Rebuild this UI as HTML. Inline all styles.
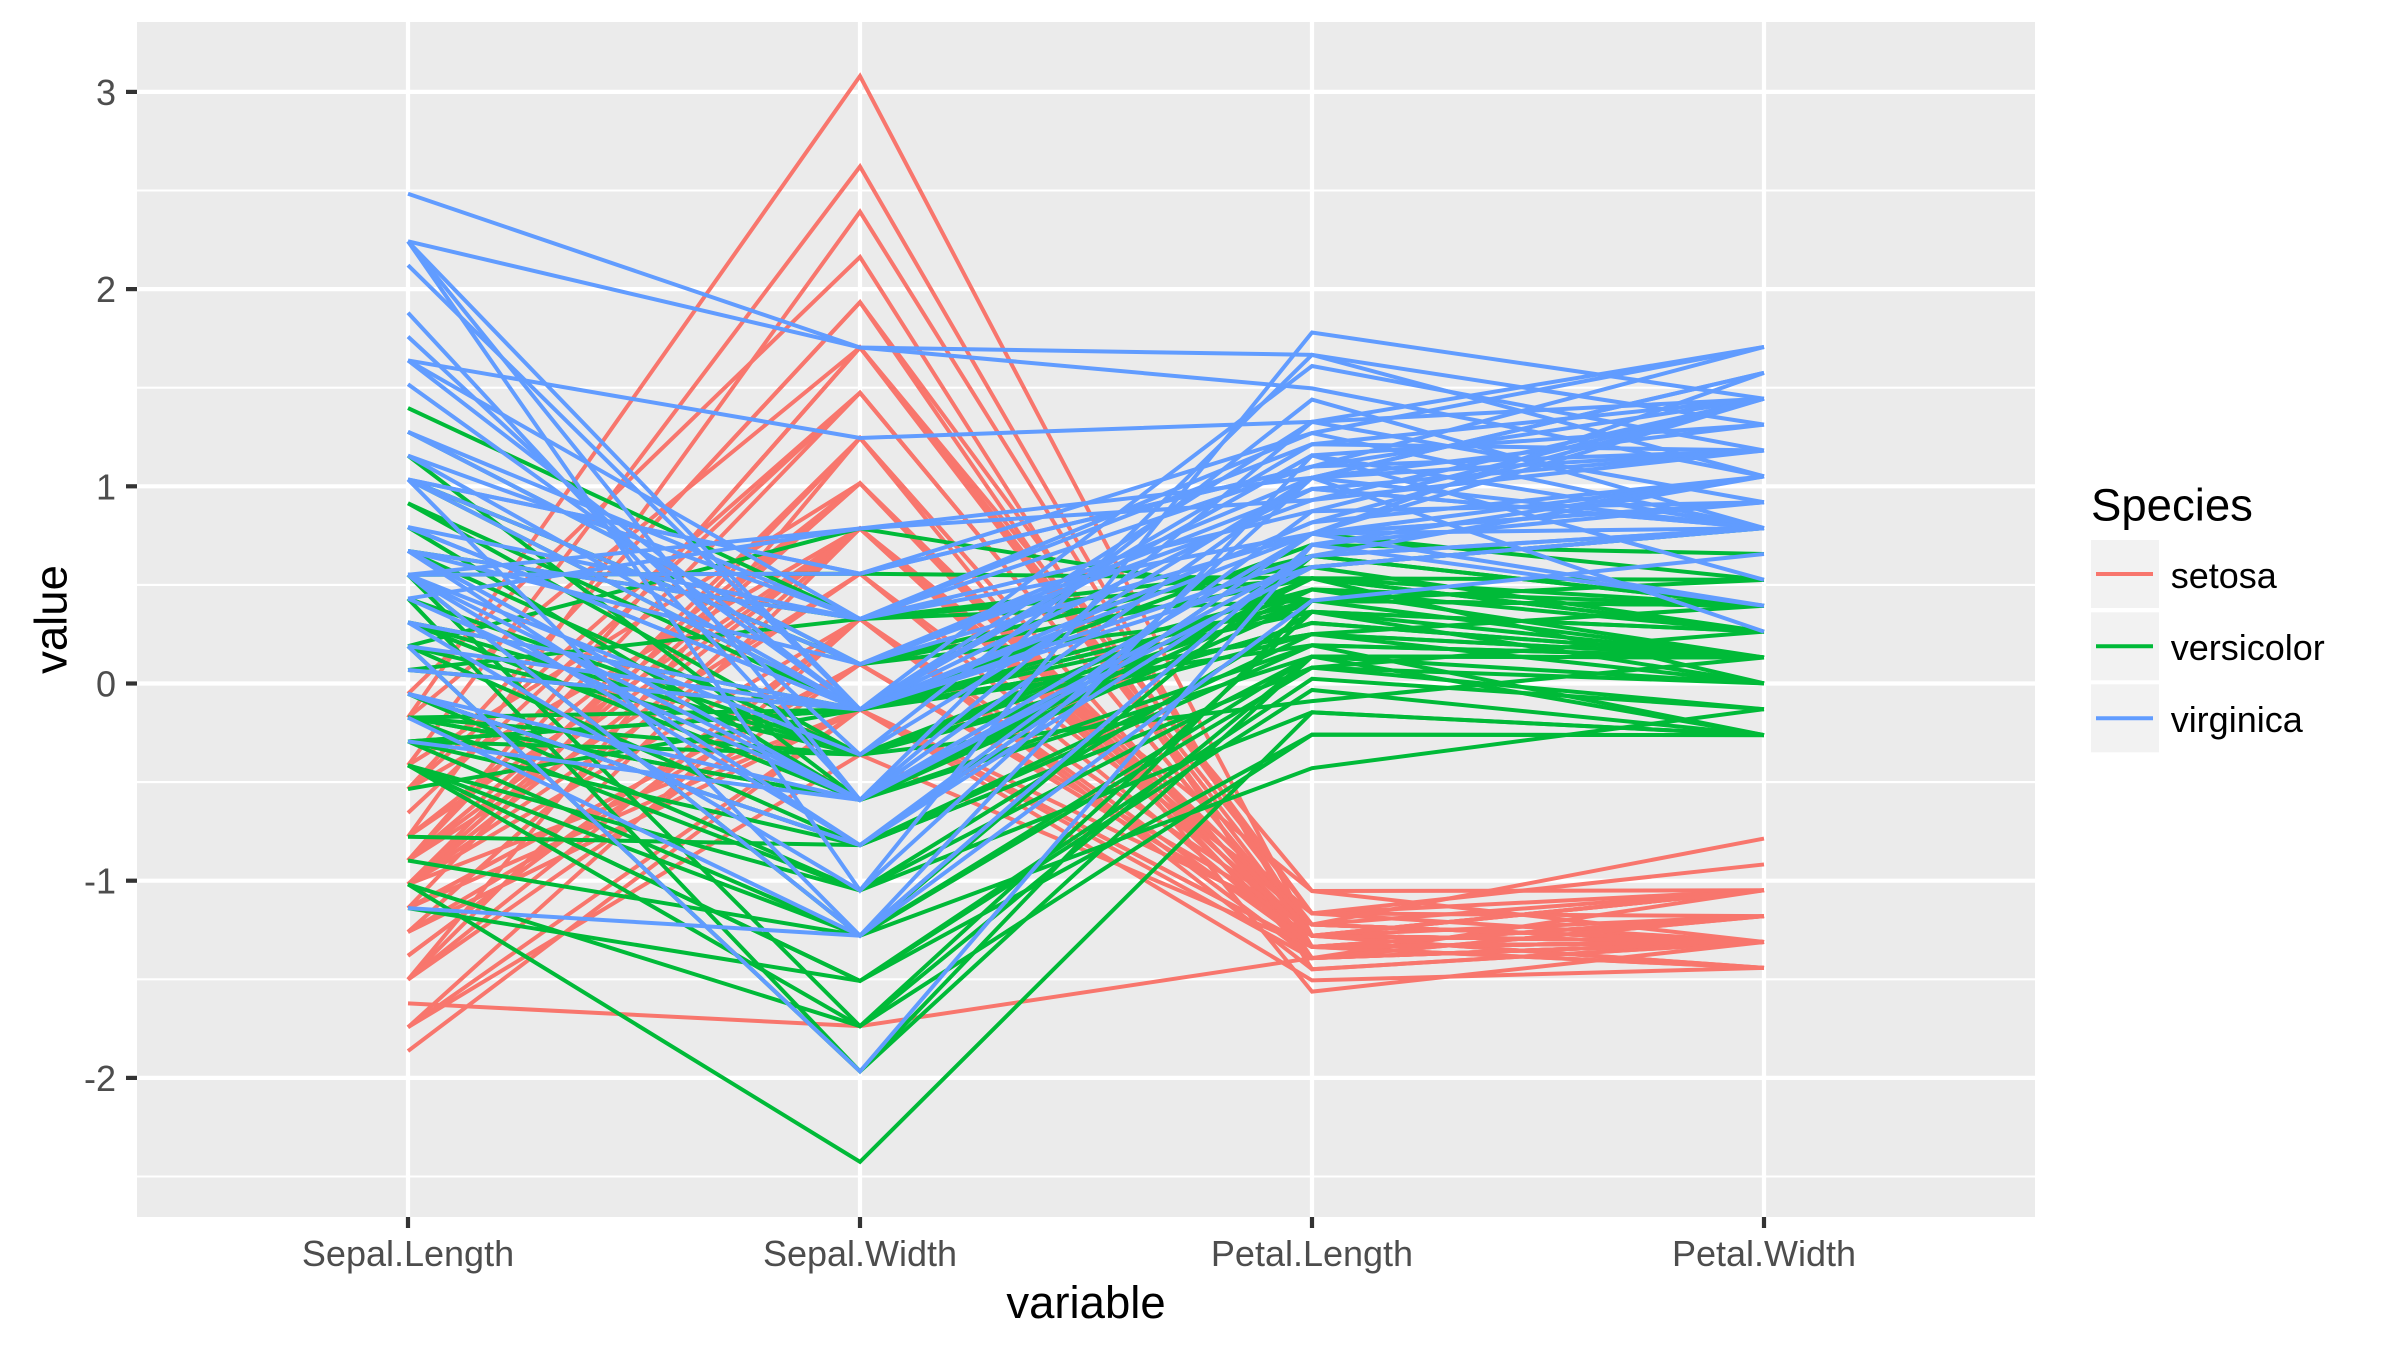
<!DOCTYPE html>
<html>
<head>
<meta charset="utf-8">
<style>
  html, body { margin: 0; padding: 0; background: #ffffff; }
  svg { display: block; }
  text { font-family: "Liberation Sans", Arial, sans-serif; }
</style>
</head>
<body>
<svg id="chart" width="2400" height="1350" viewBox="0 0 2400 1350" xmlns="http://www.w3.org/2000/svg">
  <rect x="0" y="0" width="2400" height="1350" fill="#ffffff"/>
  <!-- panel -->
  <rect x="137" y="22" width="1898" height="1195" fill="#EBEBEB"/>
  <!-- minor grid -->
  <g stroke="#ffffff" stroke-width="2.1">
    <line x1="137" x2="2035" y1="190.5" y2="190.5"/>
    <line x1="137" x2="2035" y1="387.7" y2="387.7"/>
    <line x1="137" x2="2035" y1="584.9" y2="584.9"/>
    <line x1="137" x2="2035" y1="782.1" y2="782.1"/>
    <line x1="137" x2="2035" y1="979.3" y2="979.3"/>
    <line x1="137" x2="2035" y1="1176.5" y2="1176.5"/>
  </g>
  <!-- major grid -->
  <g stroke="#ffffff" stroke-width="4.2">
    <line x1="137" x2="2035" y1="91.9" y2="91.9"/>
    <line x1="137" x2="2035" y1="289.1" y2="289.1"/>
    <line x1="137" x2="2035" y1="486.3" y2="486.3"/>
    <line x1="137" x2="2035" y1="683.5" y2="683.5"/>
    <line x1="137" x2="2035" y1="880.7" y2="880.7"/>
    <line x1="137" x2="2035" y1="1077.9" y2="1077.9"/>
    <line x1="408" x2="408" y1="22" y2="1217"/>
    <line x1="860" x2="860" y1="22" y2="1217"/>
    <line x1="1312" x2="1312" y1="22" y2="1217"/>
    <line x1="1764" x2="1764" y1="22" y2="1217"/>
  </g>
  <!-- data lines -->
  <g id="series" fill="none" stroke-width="4" stroke-linejoin="miter" stroke-linecap="butt"></g>
  <!-- ticks -->
  <g stroke="#333333" stroke-width="4.2">
    <line x1="126" x2="137" y1="91.9" y2="91.9"/>
    <line x1="126" x2="137" y1="289.1" y2="289.1"/>
    <line x1="126" x2="137" y1="486.3" y2="486.3"/>
    <line x1="126" x2="137" y1="683.5" y2="683.5"/>
    <line x1="126" x2="137" y1="880.7" y2="880.7"/>
    <line x1="126" x2="137" y1="1077.9" y2="1077.9"/>
    <line x1="408" x2="408" y1="1217" y2="1228"/>
    <line x1="860" x2="860" y1="1217" y2="1228"/>
    <line x1="1312" x2="1312" y1="1217" y2="1228"/>
    <line x1="1764" x2="1764" y1="1217" y2="1228"/>
  </g>
  <!-- y tick labels -->
  <g fill="#4D4D4D" font-size="36" text-anchor="end">
    <text x="116" y="104.9">3</text>
    <text x="116" y="302.1">2</text>
    <text x="116" y="499.3">1</text>
    <text x="116" y="696.5">0</text>
    <text x="116" y="893.7">-1</text>
    <text x="116" y="1090.9">-2</text>
  </g>
  <!-- x tick labels -->
  <g fill="#4D4D4D" font-size="36" text-anchor="middle">
    <text x="408" y="1266">Sepal.Length</text>
    <text x="860" y="1266">Sepal.Width</text>
    <text x="1312" y="1266">Petal.Length</text>
    <text x="1764" y="1266">Petal.Width</text>
  </g>
  <!-- axis titles -->
  <text x="1086" y="1318" font-size="45.5" text-anchor="middle" fill="#000000">variable</text>
  <text transform="translate(66.5,619.5) rotate(-90)" font-size="45.5" text-anchor="middle" fill="#000000">value</text>
  <!-- legend -->
  <text x="2091" y="520.7" font-size="45.5" fill="#000000">Species</text>
  <rect x="2091" y="540" width="68" height="68" fill="#F2F2F2"/>
  <rect x="2091" y="612.3" width="68" height="68" fill="#F2F2F2"/>
  <rect x="2091" y="684.3" width="68" height="68" fill="#F2F2F2"/>
  <line x1="2096" x2="2153" y1="574" y2="574" stroke="#F8766D" stroke-width="4"/>
  <line x1="2096" x2="2153" y1="646.3" y2="646.3" stroke="#00BA38" stroke-width="4"/>
  <line x1="2096" x2="2153" y1="718.3" y2="718.3" stroke="#619CFF" stroke-width="4"/>
  <g font-size="36" fill="#000000">
    <text x="2170.7" y="588">setosa</text>
    <text x="2170.7" y="660">versicolor</text>
    <text x="2170.7" y="732">virginica</text>
  </g>
</svg>
<script>
(function(){
  var raw = "51,35,14,2;49,30,14,2;47,32,13,2;46,31,15,2;50,36,14,2;54,39,17,4;46,34,14,3;50,34,15,2;44,29,14,2;49,31,15,1;" +
  "54,37,15,2;48,34,16,2;48,30,14,1;43,30,11,1;58,40,12,2;57,44,15,4;54,39,13,4;51,35,14,3;57,38,17,3;51,38,15,3;" +
  "54,34,17,2;51,37,15,4;46,36,10,2;51,33,17,5;48,34,19,2;50,30,16,2;50,34,16,4;52,35,15,2;52,34,14,2;47,32,16,2;" +
  "48,31,16,2;54,34,15,4;52,41,15,1;55,42,14,2;49,31,15,2;50,32,12,2;55,35,13,2;49,36,14,1;44,30,13,2;51,34,15,2;" +
  "50,35,13,3;45,23,13,3;44,32,13,2;50,35,16,6;51,38,19,4;48,30,14,3;51,38,16,2;46,32,14,2;53,37,15,2;50,33,14,2;" +
  "70,32,47,14;64,32,45,15;69,31,49,15;55,23,40,13;65,28,46,15;57,28,45,13;63,33,47,16;49,24,33,10;66,29,46,13;52,27,39,14;" +
  "50,20,35,10;59,30,42,15;60,22,40,10;61,29,47,14;56,29,36,13;67,31,44,14;56,30,45,15;58,27,41,10;62,22,45,15;56,25,39,11;" +
  "59,32,48,18;61,28,40,13;63,25,49,15;61,28,47,12;64,29,43,13;66,30,44,14;68,28,48,14;67,30,50,17;60,29,45,15;57,26,35,10;" +
  "55,24,38,11;55,24,37,10;58,27,39,12;60,27,51,16;54,30,45,15;60,34,45,16;67,31,47,15;63,23,44,13;56,30,41,13;55,25,40,13;" +
  "55,26,44,12;61,30,46,14;58,26,40,12;50,23,33,10;56,27,42,13;57,30,42,12;57,29,42,13;62,29,43,13;51,25,30,11;57,28,41,13;" +
  "63,33,60,25;58,27,51,19;71,30,59,21;63,29,56,18;65,30,58,22;76,30,66,21;49,25,45,17;73,29,63,18;67,25,58,18;72,36,61,25;" +
  "65,32,51,20;64,27,53,19;68,30,55,21;57,25,50,20;58,28,51,24;64,32,53,23;65,30,55,18;77,38,67,22;77,26,69,23;60,22,50,15;" +
  "69,32,57,23;56,28,49,20;77,28,67,20;63,27,49,18;67,33,57,21;72,32,60,18;62,28,48,18;61,30,49,18;64,28,56,21;72,30,58,16;" +
  "74,28,61,19;79,38,64,20;64,28,56,22;63,28,51,15;61,26,56,14;77,30,61,23;63,34,56,24;64,31,55,18;60,30,48,18;69,31,54,21;" +
  "67,31,56,24;69,31,51,23;58,27,51,19;68,32,59,23;67,33,57,25;67,30,52,23;63,25,50,19;65,30,52,20;62,34,54,23;59,30,51,18";
  var rows = raw.split(";").map(function(r){ return r.split(",").map(function(v){ return parseInt(v,10)/10; }); });
  var n = rows.length, means = [], sds = [];
  for (var j = 0; j < 4; j++) {
    var s = 0; for (var i = 0; i < n; i++) s += rows[i][j];
    var m = s / n, ss = 0;
    for (var i2 = 0; i2 < n; i2++) ss += (rows[i2][j]-m)*(rows[i2][j]-m);
    means.push(m); sds.push(Math.sqrt(ss/(n-1)));
  }
  var X = [408, 860, 1312, 1764];
  var y0 = 683.5, k = 197.2;
  var cols = ["#F8766D", "#00BA38", "#619CFF"];
  var g = document.getElementById("series");
  var ns = "http://www.w3.org/2000/svg";
  for (var r = 0; r < n; r++) {
    var pts = [];
    for (var c = 0; c < 4; c++) {
      var z = (rows[r][c] - means[c]) / sds[c];
      pts.push(X[c] + "," + (y0 - z * k).toFixed(2));
    }
    var pl = document.createElementNS(ns, "polyline");
    pl.setAttribute("points", pts.join(" "));
    pl.setAttribute("stroke", cols[Math.floor(r / 50)]);
    g.appendChild(pl);
  }
})();
</script>
</body>
</html>
